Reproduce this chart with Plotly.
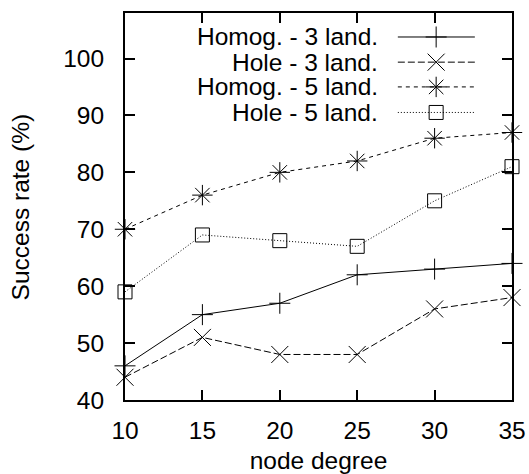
import plotly.graph_objects as go

node_degree = [10, 15, 20, 25, 30, 35]
homog_3 = [46, 55, 57, 62, 63, 64]
hole_3 = [44, 51, 48, 48, 56, 58]
homog_5 = [70, 76, 80, 82, 86, 87]
hole_5 = [59, 69, 68, 67, 75, 81]

series_names = ["Homog. - 3 land.", "Hole - 3 land.", "Homog. - 5 land.", "Hole - 5 land."]
series_values = [homog_3, hole_3, homog_5, hole_5]
symbols = ["cross-thin-open", "x-thin-open", "asterisk-open", "square-open"]
sizes = [15, 17, 17, 14]
dashes = ["solid", "7px,3px", "4px,4px", "1px,2px"]
y_ticks = [40, 50, 60, 70, 80, 90, 100]
x_ticks = [10, 15, 20, 25, 30, 35]

FONT = "Liberation Sans, Arial, sans-serif"
FS = 24.5
fig = go.Figure()

for name, vals, sym, sz, dsh in zip(series_names, series_values, symbols, sizes, dashes):
    fig.add_trace(go.Scatter(
        x=node_degree, y=vals, name=name, mode="lines+markers",
        line=dict(color="black", width=1, dash=dsh),
        marker=dict(symbol=sym, size=sz, color="black",
                    line=dict(color="black", width=1)),
        cliponaxis=False, showlegend=False))

# manual gnuplot-style key (text left, sample right)
row_y = [0.938, 0.873, 0.809, 0.743]
for name, sym, sz, dsh, ry in zip(series_names, symbols, sizes, dashes, row_y):
    fig.add_trace(go.Scatter(
        x=[0.705, 0.804, 0.904], y=[ry, ry, ry], xaxis="x2", yaxis="y2",
        mode="lines+markers",
        line=dict(color="black", width=1, dash=dsh),
        marker=dict(symbol=sym, size=sz, color="black",
                    line=dict(color="black", width=1),
                    opacity=[0, 1, 0]),
        showlegend=False, hoverinfo="skip"))
    fig.add_annotation(x=0.659, y=ry, xref="paper", yref="paper",
                       text=name, showarrow=False, xanchor="right",
                       yanchor="middle", font=dict(size=FS, family=FONT, color="black"))

# y axis title
fig.add_annotation(x=-0.269, y=0.5, xref="paper", yref="paper",
                   text="Success rate (%)", showarrow=False, textangle=-90,
                   xanchor="center", yanchor="middle",
                   font=dict(size=FS, family=FONT, color="black"))

axis_common = dict(showline=True, linecolor="black", linewidth=2, mirror="ticks",
                   ticks="inside", ticklen=10, tickwidth=1.5, tickcolor="black",
                   showgrid=False, zeroline=False, automargin=False,
                   tickfont=dict(size=FS, family=FONT, color="black"))

fig.update_layout(
    width=529, height=474,
    margin=dict(l=125, r=17, t=13, b=74),
    plot_bgcolor="white", paper_bgcolor="white",
    font=dict(family=FONT, size=FS, color="black"),
    xaxis=dict(range=[10, 35], tickvals=x_ticks, ticklabelstandoff=8,
               title=dict(text="node degree", font=dict(size=FS, family=FONT), standoff=8),
               **axis_common),
    yaxis=dict(range=[40, 108], tickvals=y_ticks, ticklabelstandoff=14,
               **axis_common),
    xaxis2=dict(range=[0, 1], overlaying="x", visible=False, fixedrange=True),
    yaxis2=dict(range=[0, 1], overlaying="y", visible=False, fixedrange=True),
)

fig.write_html("out.html", config={"displayModeBar": False},
               post_script="document.body.style.margin='0';document.body.style.overflow='hidden';")
